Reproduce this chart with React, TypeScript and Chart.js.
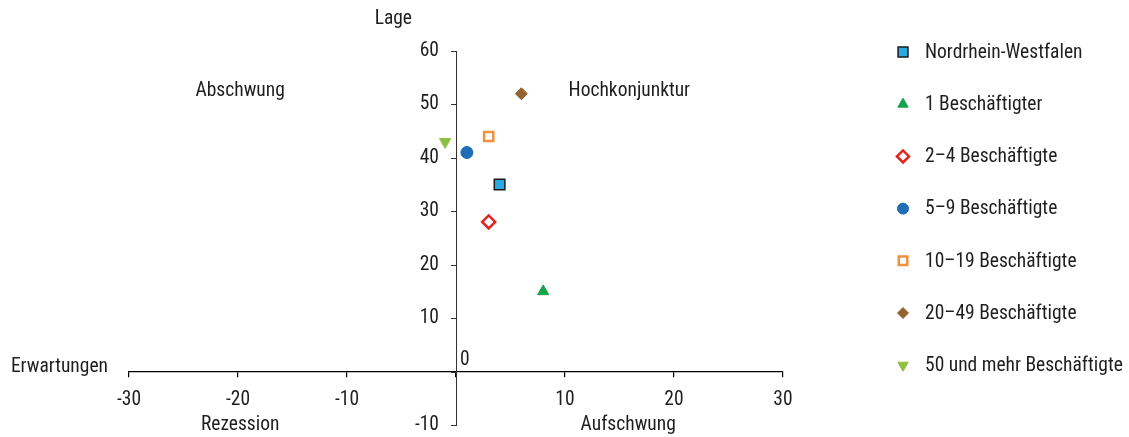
import React, { useEffect, useRef } from 'react';
import { Chart, registerables } from 'chart.js';
import { drawPoint } from 'chart.js/helpers';

Chart.register(...registerables);

const seriesLabels = [
  'Nordrhein-Westfalen',
  '1 Beschäftigter',
  '2–4 Beschäftigte',
  '5–9 Beschäftigte',
  '10–19 Beschäftigte',
  '20–49 Beschäftigte',
  '50 und mehr Beschäftigte',
];
const expectations = [4, 8, 3, 1, 3, 6, -1];
const situation = [35, 15, 28, 41, 44, 52, 43];
const xTicks = [-30, -20, -10, 0, 10, 20, 30];
const yTicks = [-10, 0, 10, 20, 30, 40, 50, 60];
const quadrantLabels = ['Abschwung', 'Hochkonjunktur', 'Rezession', 'Aufschwung'];
const axisTitles = ['Erwartungen', 'Lage'];

const FONT = '"Liberation Sans Narrow", "Roboto Condensed", "Arial Narrow", Roboto, sans-serif';
const FS = 19.5;
const TEXT = '#1e1e1e';

const markerStyles = [
  { pointStyle: 'rect', radius: 7.5, fill: '#29abe2', border: '#1a1a1a', borderWidth: 1.5, rotation: 0 },
  { pointStyle: 'triangle', radius: 6.5, fill: '#16a24a', border: '#16a24a', borderWidth: 1, rotation: 0 },
  { pointStyle: 'rectRot', radius: 6.5, fill: '#ffffff', border: '#e3231b', borderWidth: 2.5, rotation: 0 },
  { pointStyle: 'circle', radius: 6, fill: '#1f6db5', border: '#1f6db5', borderWidth: 1, rotation: 0 },
  { pointStyle: 'rect', radius: 6.5, fill: '#ffffff', border: '#f0913f', borderWidth: 2.5, rotation: 0 },
  { pointStyle: 'rectRot', radius: 6, fill: '#93622f', border: '#93622f', borderWidth: 1, rotation: 0 },
  { pointStyle: 'triangle', radius: 6.5, fill: '#8cc03e', border: '#8cc03e', borderWidth: 1, rotation: 180 },
];

const overlayPlugin = {
  id: 'overlay',
  afterDraw(chart: any) {
    const { ctx, chartArea, scales } = chart;
    const x = scales.x;
    const y = scales.y;
    const x0 = x.getPixelForValue(0);
    const y0 = y.getPixelForValue(0);
    ctx.save();

    // y axis tick marks and labels (left side of the centred axis)
    ctx.strokeStyle = '#333';
    ctx.lineWidth = 1;
    ctx.fillStyle = TEXT;
    ctx.font = `${FS}px ${FONT}`;
    ctx.textBaseline = 'middle';
    ctx.textAlign = 'right';
    y.ticks.forEach((t: any) => {
      const py = Math.round(y.getPixelForValue(t.value)) + 0.5;
      ctx.beginPath();
      ctx.moveTo(x0 - 5, py);
      ctx.lineTo(x0, py);
      ctx.stroke();
      if (t.value !== 0) ctx.fillText(String(t.value), x0 - 17, py);
    });

    ctx.textAlign = 'center';
    const topY = y.getPixelForValue(52.4);
    const botY = chartArea.bottom;
    ctx.fillText(quadrantLabels[0], x.getPixelForValue(-19.8), topY);
    ctx.fillText(quadrantLabels[1], x.getPixelForValue(15.9), topY);
    ctx.fillText(quadrantLabels[2], x.getPixelForValue(-19.8), botY);
    ctx.fillText(quadrantLabels[3], x.getPixelForValue(15.8), botY);
    ctx.textAlign = 'right';
    ctx.fillText(axisTitles[0], chartArea.left - 21, y0 - 4);
    ctx.fillText(axisTitles[1], x0 - 44, 19);
    ctx.textAlign = 'left';
    ctx.fillText('0', x0 + 4, y0 - 11);

    // legend
    const mx = chartArea.right + 120;
    const tx = chartArea.right + 142;
    chart.data.datasets.forEach((ds: any, i: number) => {
      const ry = 52 + i * 52.2;
      const st = markerStyles[i];
      ctx.fillStyle = st.fill;
      ctx.strokeStyle = st.border;
      ctx.lineWidth = st.borderWidth;
      drawPoint(ctx, { pointStyle: st.pointStyle as any, rotation: st.rotation, radius: st.radius - 0.5, borderWidth: st.borderWidth }, mx, ry);
      ctx.fillStyle = TEXT;
      ctx.textAlign = 'left';
      ctx.fillText(ds.label, tx, ry + 1);
    });
    ctx.restore();
  },
};

export default function App() {
  const ref = useRef<HTMLCanvasElement>(null);
  useEffect(() => {
    document.body.style.margin = '0';
    const datasets = seriesLabels.map((label, i) => ({
      label,
      data: [{ x: expectations[i], y: situation[i] }],
      pointStyle: markerStyles[i].pointStyle as any,
      pointRadius: markerStyles[i].radius,
      pointRotation: markerStyles[i].rotation,
      backgroundColor: markerStyles[i].fill,
      borderColor: markerStyles[i].border,
      borderWidth: markerStyles[i].borderWidth,
    }));
    const chart = new Chart(ref.current!, {
      type: 'scatter',
      data: { datasets },
      options: {
        animation: false,
        responsive: false,
        maintainAspectRatio: false,
        layout: { padding: { left: 129, right: 346, top: 51, bottom: 12 } },
        plugins: { legend: { display: false }, tooltip: { enabled: false } },
        scales: {
          x: {
            type: 'linear',
            min: -30,
            max: 30,
            position: { y: 0 } as any,
            afterBuildTicks: (s: any) => { s.ticks = xTicks.map((v) => ({ value: v })); },
            ticks: {
              color: TEXT,
              font: { family: FONT, size: FS },
              padding: 12,
              autoSkip: false,
              maxRotation: 0,
              callback: (v: any) => (Number(v) === 0 ? '' : String(v)),
            },
            grid: { drawOnChartArea: false, drawTicks: true, tickLength: 5, tickColor: '#000', lineWidth: 1.2 },
            border: { display: true, color: '#000', width: 1.3 },
          },
          y: {
            type: 'linear',
            min: -10,
            max: 60,
            position: { x: 0 } as any,
            afterBuildTicks: (s: any) => { s.ticks = yTicks.map((v) => ({ value: v })); },
            ticks: { display: false },
            grid: { drawOnChartArea: false, drawTicks: false },
            border: { display: true, color: '#333', width: 1 },
          },
        },
      },
      plugins: [overlayPlugin],
    });
    return () => chart.destroy();
  }, []);
  return (
    <div style={{ width: 1129, height: 437 }}>
      <canvas ref={ref} width={1129} height={437} style={{ display: 'block', width: 1129, height: 437 }} />
    </div>
  );
}
